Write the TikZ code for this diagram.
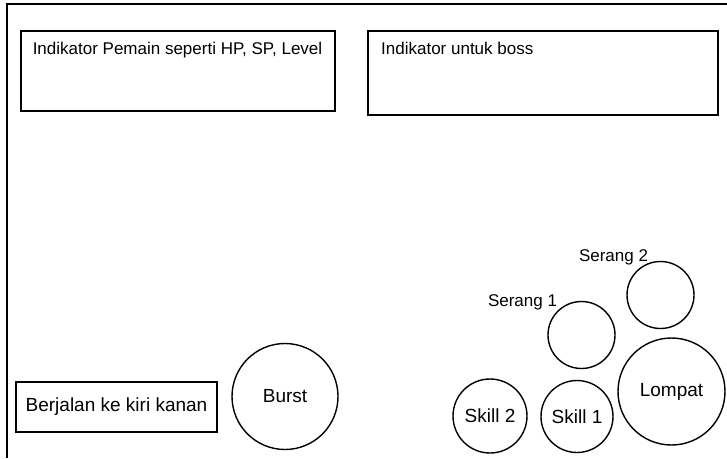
\documentclass[tikz,border=0pt]{standalone}
\usepackage{fontspec}
\setmainfont{Liberation Sans}
\begin{document}
\begin{tikzpicture}[
  x=1pt, y=-1pt,
  panel/.style={draw, line width=1.4pt, inner sep=0pt},
  tombol/.style={draw, circle, line width=1.4pt, inner sep=0pt, font=\fontsize{19}{22}\selectfont},
  kecil/.style={inner sep=0pt, font=\fontsize{17}{20}\selectfont},
  besar/.style={inner sep=0pt, font=\fontsize{19}{22}\selectfont}
]
\useasboundingbox (0,0) rectangle (727,458);

% bingkai layar
\coordinate (kiribawah) at (7,458);
\coordinate (kiriatas) at (7,4);
\coordinate (kananatas) at (727,4);
\draw[line width=2.2pt] (kiribawah) -- (kiriatas) -- (kananatas);

% indikator
\node[panel, minimum width=314pt, minimum height=80pt] (pemain) at (178,71) {};
\node[kecil, anchor=base] (teksPemain) at (177.5,54) {Indikator Pemain seperti HP, SP, Level};
\node[panel, minimum width=350pt, minimum height=84pt] (boss) at (543,73) {};
\node[kecil, anchor=base west] (teksBoss) at (381,54) {Indikator untuk boss};

% kontrol
\node[panel, besar, minimum width=201pt, minimum height=50pt] (jalan) at (116.5,407) {Berjalan ke kiri kanan};
\node[tombol, minimum size=106pt] (burst) at (285,396.5) {Burst};
\node[tombol, minimum size=74pt] (skill2) at (490,416) {Skill 2};
\node[tombol, minimum size=72pt] (skill1) at (577,416.5) {Skill 1};
\node[tombol, minimum size=107pt] (lompat) at (671.5,391.5) {Lompat};
\node[tombol, minimum size=67pt] (serang1) at (581.5,335) {};
\node[tombol, minimum size=67pt] (serang2) at (660.5,295) {};
\node[kecil, anchor=base] (teksSerang1) at (522.5,306) {Serang 1};
\node[kecil, anchor=base] (teksSerang2) at (613.5,261) {Serang 2};
\end{tikzpicture}
\end{document}
